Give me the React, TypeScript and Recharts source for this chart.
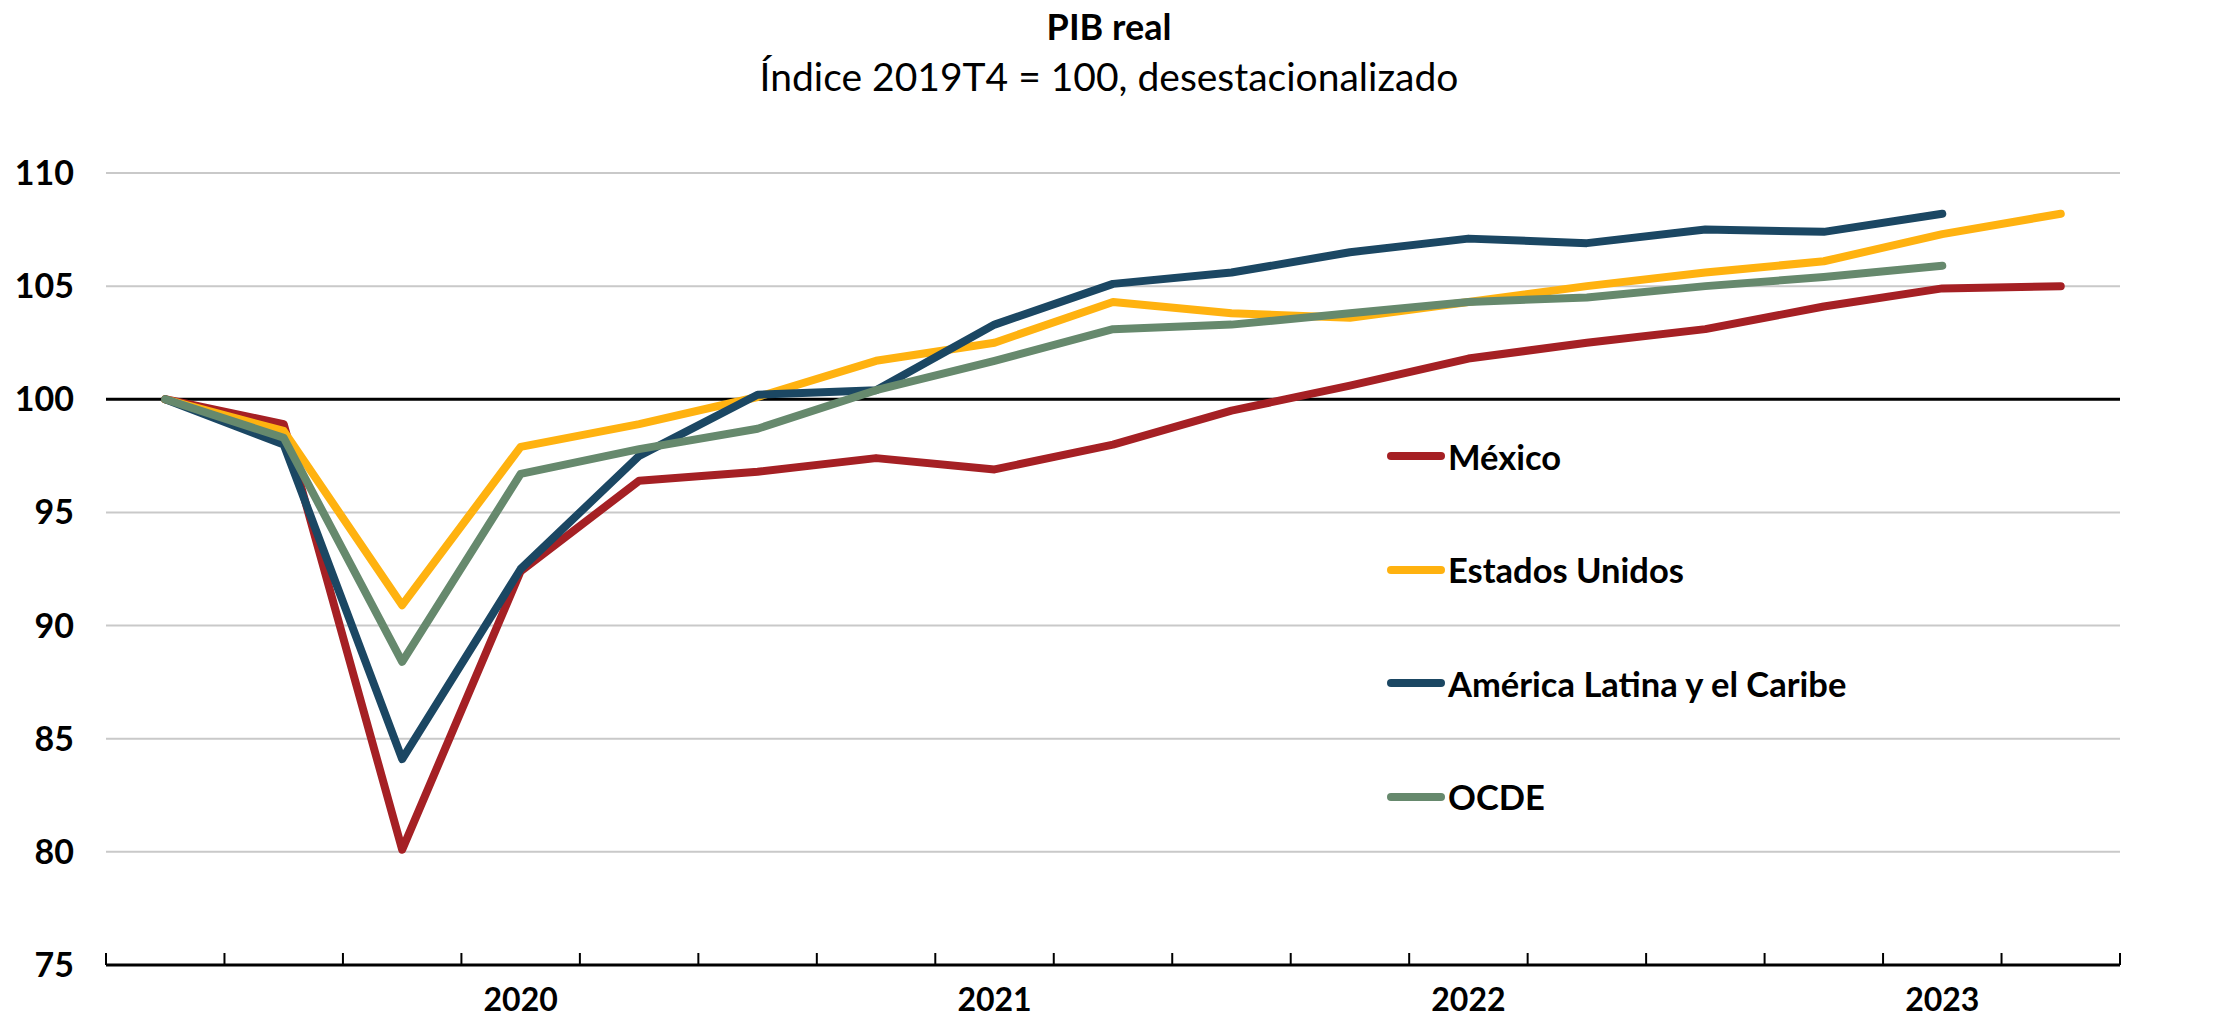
import React from "react";
import { LineChart, Line, XAxis, YAxis, CartesianGrid, ReferenceLine } from "recharts";

// 2019T4 .. 2023T4
const quarters = [
  "2019T4", "2020T1", "2020T2", "2020T3", "2020T4",
  "2021T1", "2021T2", "2021T3", "2021T4",
  "2022T1", "2022T2", "2022T3", "2022T4",
  "2023T1", "2023T2", "2023T3", "2023T4",
];
const mexico = [100, 98.9, 80.1, 92.4, 96.4, 96.8, 97.4, 96.9, 98.0, 99.5, 100.6, 101.8, 102.5, 103.1, 104.1, 104.9, 105.0];
const estadosUnidos = [100, 98.6, 90.9, 97.9, 98.9, 100.1, 101.7, 102.5, 104.3, 103.8, 103.6, 104.3, 105.0, 105.6, 106.1, 107.3, 108.2];
const americaLatina = [100, 98.0, 84.1, 92.5, 97.5, 100.2, 100.4, 103.3, 105.1, 105.6, 106.5, 107.1, 106.9, 107.5, 107.4, 108.2, null];
const ocde = [100, 98.3, 88.4, 96.7, 97.8, 98.7, 100.4, 101.7, 103.1, 103.3, 103.8, 104.3, 104.5, 105.0, 105.4, 105.9, null];

const yearTicks = [3, 7, 11, 15];
const yearLabels = ["2020", "2021", "2022", "2023"];
const yTicks = [75, 80, 85, 90, 95, 100, 105, 110];

const series = [
  { key: "mx", name: "México", color: "#A52024" },
  { key: "us", name: "Estados Unidos", color: "#FFB210" },
  { key: "alc", name: "América Latina y el Caribe", color: "#1B4763" },
  { key: "ocde", name: "OCDE", color: "#66896D" },
];

const data = quarters.map((q, i) => ({
  i,
  q,
  mx: mexico[i],
  us: estadosUnidos[i],
  alc: americaLatina[i],
  ocde: ocde[i],
}));

// tick marks sit between quarters, year labels under the third quarter
const boundaries = quarters.map((_, i) => i - 0.5).concat([quarters.length - 0.5]);
const xTicks = [...boundaries, ...yearTicks].sort((a, b) => a - b);

const FONT = "Lato, 'Open Sans', sans-serif";

function QuarterTick(props: any) {
  const { x, y, payload } = props;
  const v = payload.value;
  if (Number.isInteger(v)) {
    const idx = yearTicks.indexOf(v);
    return (
      <text x={x} y={y + 46} textAnchor="middle" fontFamily={FONT} fontWeight={700} fontSize={32} fill="#000">
        {yearLabels[idx]}
      </text>
    );
  }
  return <line x1={x} x2={x} y1={y - 12} y2={y} stroke="#000" strokeWidth={2} />;
}

export default function App() {
  return (
    <div style={{ position: "absolute", left: 0, top: 0, width: 2218, height: 1017, background: "#fff", fontFamily: FONT }}>
      <div style={{ position: "absolute", left: 0, width: 2218, top: 4, textAlign: "center", fontSize: 36, fontWeight: 700, color: "#000" }}>
        PIB real
      </div>
      <div style={{ position: "absolute", left: 0, width: 2218, top: 53, textAlign: "center", fontSize: 39, color: "#000" }}>
        Índice 2019T4 = 100, desestacionalizado
      </div>
      <div style={{ position: "absolute", left: 0, top: 0 }}>
        <LineChart width={2218} height={1017} data={data} margin={{ top: 173, right: 0, bottom: 0, left: 0 }}>
          <CartesianGrid horizontal vertical={false} stroke="#c9c9c9" strokeWidth={2} yAxisId="l" />
          <XAxis
            dataKey="i"
            type="number"
            domain={[-0.5, 16.5]}
            ticks={xTicks}
            interval={0}
            height={52}
            tickSize={0}
            tickMargin={0}
            tickLine={false}
            axisLine={{ stroke: "#000", strokeWidth: 3 }}
            tick={<QuarterTick />}
          />
          <YAxis
            yAxisId="l"
            domain={[75, 110]}
            ticks={yTicks}
            width={106}
            axisLine={false}
            tickLine={false}
            tickSize={0}
            tickMargin={32}
            tick={{ fill: "#000", fontSize: 34, fontWeight: 700, fontFamily: FONT }}
          />
          <YAxis
            yAxisId="r"
            orientation="right"
            domain={[75, 110]}
            ticks={yTicks}
            width={98}
            axisLine={false}
            tickLine={false}
            tickSize={0}
            tickMargin={20}
            tick={{ fill: "#000", fontSize: 34, fontWeight: 700, fontFamily: FONT, textAnchor: "start" }}
          />
          <ReferenceLine yAxisId="l" y={100} stroke="#000" strokeWidth={3} />
          {series.map((s) => (
            <Line
              key={s.key}
              yAxisId="l"
              dataKey={s.key}
              name={s.name}
              stroke={s.color}
              strokeWidth={8}
              strokeLinecap="round"
              strokeLinejoin="round"
              dot={false}
              activeDot={false}
              type="linear"
              isAnimationActive={false}
            />
          ))}
        </LineChart>
      </div>
      {series.map((s, k) => (
        <div key={s.key} style={{ position: "absolute", left: 1387, top: 456 + k * 113.5 - 20, height: 40, display: "flex", alignItems: "center" }}>
          <div style={{ width: 58, height: 8, borderRadius: 4, background: s.color }} />
          <span style={{ marginLeft: 3, fontSize: 34.5, fontWeight: 700, color: "#000" }}>{s.name}</span>
        </div>
      ))}
    </div>
  );
}
